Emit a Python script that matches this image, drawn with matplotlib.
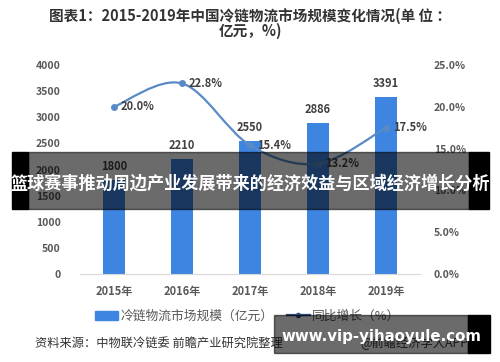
import numpy as np
import matplotlib.pyplot as plt
from matplotlib.path import Path
from matplotlib.patches import PathPatch, Rectangle
from matplotlib.lines import Line2D

plt.rcParams['font.family'] = ['Noto Sans CJK SC', 'DejaVu Sans']

years = ['2015年', '2016年', '2017年', '2018年', '2019年']
scale = [1800, 2210, 2550, 2886, 3391]
growth = [20.0, 22.8, 15.4, 13.2, 17.5]
left_ticks = [0, 500, 1000, 1500, 2000, 2500, 3000, 3500, 4000]
right_ticks = [0, 5, 10, 15, 20, 25]

bar_c = '#3d85e0'
line_c = '#5a8ac6'
tick_c = '#595959'

W, H = 500, 362
fig = plt.figure(figsize=(5, 3.62), dpi=100)
fig.patch.set_facecolor('white')

ax = fig.add_axes([80 / W, 1 - 274 / H, 340 / W, 209 / H])
x = np.arange(len(years))
ax.bar(x, scale, width=0.31, color=bar_c, zorder=2)
ax.set_xlim(-0.5, 4.5)
ax.set_ylim(0, 4000)
ax.set_xticks(x)
ax.set_xticklabels(years, fontsize=8, color=tick_c, fontweight='bold')
ax.set_yticks(left_ticks)
ax.set_yticklabels([str(v) for v in left_ticks], fontsize=7.5, color=tick_c, fontweight='bold')
ax.tick_params(length=0, pad=14)
ax.tick_params(axis='x', pad=8)
for s in ['top', 'right', 'left']:
    ax.spines[s].set_visible(False)
ax.spines['bottom'].set_color('#d9d9d9')
for xi, v in zip(x, scale):
    ax.annotate(str(v), (xi, v), xytext=(0, 5), textcoords='offset points',
                ha='center', va='bottom', fontsize=8, color='#404040', fontweight='bold')

ax2 = ax.twinx()
ax2.set_ylim(0, 25)
ax2.set_yticks(right_ticks)
ax2.set_yticklabels(['%.1f%%' % v for v in right_ticks], fontsize=7.5, color=tick_c, fontweight='bold')
ax2.tick_params(length=0, pad=10)
for s in ax2.spines.values():
    s.set_visible(False)

# smooth line through the points (Catmull-Rom as cubic Bezier)
pts = np.column_stack([x, growth]).astype(float)
verts = [tuple(pts[0])]
codes = [Path.MOVETO]
for i in range(len(pts) - 1):
    p0 = pts[i - 1] if i > 0 else pts[i]
    p1, p2 = pts[i], pts[i + 1]
    p3 = pts[i + 2] if i + 2 < len(pts) else pts[i + 1]
    c1 = p1 + (p2 - p0) / 6
    c2 = p2 - (p3 - p1) / 6
    verts += [tuple(c1), tuple(c2), tuple(p2)]
    codes += [Path.CURVE4] * 3
ax2.add_patch(PathPatch(Path(verts, codes), fill=False, edgecolor=line_c, lw=1.6, zorder=3))
ax2.plot(x, growth, 'o', color=line_c, ms=4, zorder=4)
for xi, v in zip(x, growth):
    ax2.annotate('%.1f%%' % v, (xi, v), xytext=(5, 0), textcoords='offset points',
                 ha='left', va='center', fontsize=8, color='#404040', fontweight='bold')

fig.text(0.5, 1 - 16 / H, '图表1：2015-2019年中国冷链物流市场规模变化情况(单 位 ：',
         ha='center', va='center', fontsize=10.5, fontweight='bold', color='#333333')
fig.text(0.5, 1 - 31 / H, '亿元，%)', ha='center', va='center',
         fontsize=10.5, fontweight='bold', color='#333333')

handles = [Rectangle((0, 0), 1, 1, color=bar_c),
           Line2D([], [], color='#2f4f80', marker='o', ms=3, lw=1.6)]
fig.legend(handles, ['冷链物流市场规模（亿元）', '同比增长（%）'], loc='center',
           bbox_to_anchor=(248 / W, 1 - 316 / H), ncol=2, frameon=False,
           fontsize=9.2, labelcolor=tick_c, handlelength=1.8, columnspacing=1.0,
           handletextpad=0.2)

fig.text(35 / W, 1 - 343 / H, '资料来源：中物联冷链委 前瞻产业研究院整理',
         ha='left', va='center', fontsize=8.8, color='#333333')
fig.text(360 / W, 1 - 343 / H, '@前瞻经济学人APP', ha='left', va='center',
         fontsize=8.8, color='#333333')

# overlay banner
fig.patches.append(Rectangle((12 / W, 1 - 209 / H), 16 / W, 57 / H,
                             transform=fig.transFigure, color='black', zorder=10))
fig.patches.append(Rectangle((28 / W, 1 - 209 / H), 441 / W, 57 / H,
                             transform=fig.transFigure, color='black', alpha=0.58, zorder=10))
fig.patches.append(Rectangle((469 / W, 1 - 209 / H), 20 / W, 57 / H,
                             transform=fig.transFigure, color='black', zorder=10))
fig.text(250 / W, 1 - 184 / H, '篮球赛事推动周边产业发展带来的经济效益与区域经济增长分析',
         ha='center', va='center', fontsize=12.3, fontweight='bold', color='white', zorder=11)

# bottom watermark box
fig.patches.append(Rectangle((274 / W, 1 - 353 / H), 194 / W, 38 / H,
                             transform=fig.transFigure, color='black', alpha=0.58, zorder=10))
fig.patches.append(Rectangle((468 / W, 1 - 353 / H), 22 / W, 38 / H,
                             transform=fig.transFigure, color='black', zorder=10))
fig.text(381 / W, 1 - 336 / H, 'www.vip-yihaoyule.com', ha='center', va='center',
         fontsize=10.8, fontweight='bold', color='white', zorder=11,
         family=['DejaVu Sans'])

fig.savefig('out.png', dpi=100)
